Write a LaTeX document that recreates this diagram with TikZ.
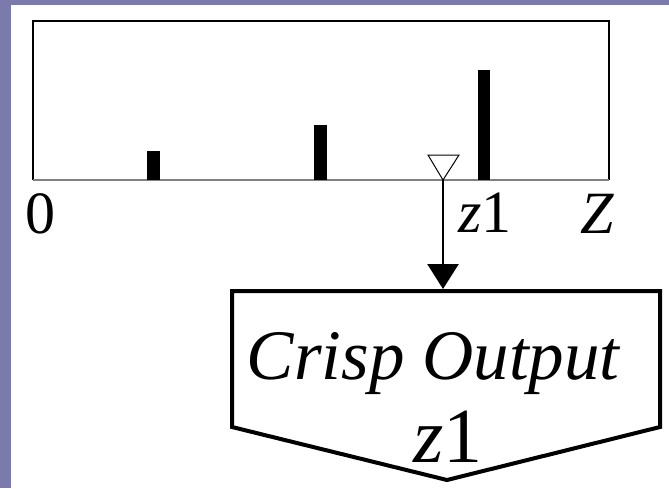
\documentclass[tikz,border=0pt]{standalone}
\usepackage{fontspec}
\setmainfont{Liberation Serif}
\usetikzlibrary{arrows.meta}
\definecolor{slideblue}{RGB}{123,123,171}
\definecolor{axisgray}{RGB}{128,128,128}
\tikzset{
  lbl/.style={anchor=base, inner sep=0pt, font=\fontsize{60}{72}\selectfont},
  boxtxt/.style={anchor=base, inner sep=0pt, font=\fontsize{71}{85}\selectfont},
  boxtxtb/.style={anchor=base, inner sep=0pt, font=\fontsize{78}{94}\selectfont},
  barfill/.style={fill=black, draw=none},
  frame/.style={draw=black, line width=1.2pt},
}
\begin{document}
\begin{tikzpicture}[x=1pt, y=-1pt]
\useasboundingbox (0,0) rectangle (669,488);
\fill[white] (0,0) rectangle (669,488);
% slide border
\fill[slideblue] (0,0) rectangle (11,488);
\fill[slideblue] (0,0) rectangle (669,5);
% frame
\draw[frame] (33,180) -- (33,21) -- (609,21) -- (609,180);
\draw[axisgray, line width=2pt] (33,180) -- (609,180);
% bars
\fill[barfill] (147,151) rectangle (160,180);
\fill[barfill] (314,125) rectangle (327,180);
\fill[barfill] (478,70) rectangle (490,180);
% marker triangle
\coordinate (apex) at (443,180);
\draw[black, line width=1pt, fill=white] (428,155) -- (459,155) -- (apex) -- cycle;
% labels
\node[lbl] (zero) at (40.5,233) {0};
\node[lbl] (zone) at (485,232) {\textit{z}1};
\node[lbl] (zcap) at (597,233) {\textit{Z}};
% output box
\coordinate (boxtop) at (443,289);
\draw[line width=4pt, line join=miter] (232,291) -- (660,291) -- (660,427) -- (447,480) -- (232,427) -- cycle;
\node[boxtxt] (crisp) at (434,379) {\textit{Crisp Output}};
\node[boxtxtb] (zbox) at (448,462) {\textit{z}1};
% arrow
\draw[line width=2.5pt, -{Triangle[width=31pt,length=25pt]}] (apex) -- (boxtop);
\end{tikzpicture}
\end{document}
